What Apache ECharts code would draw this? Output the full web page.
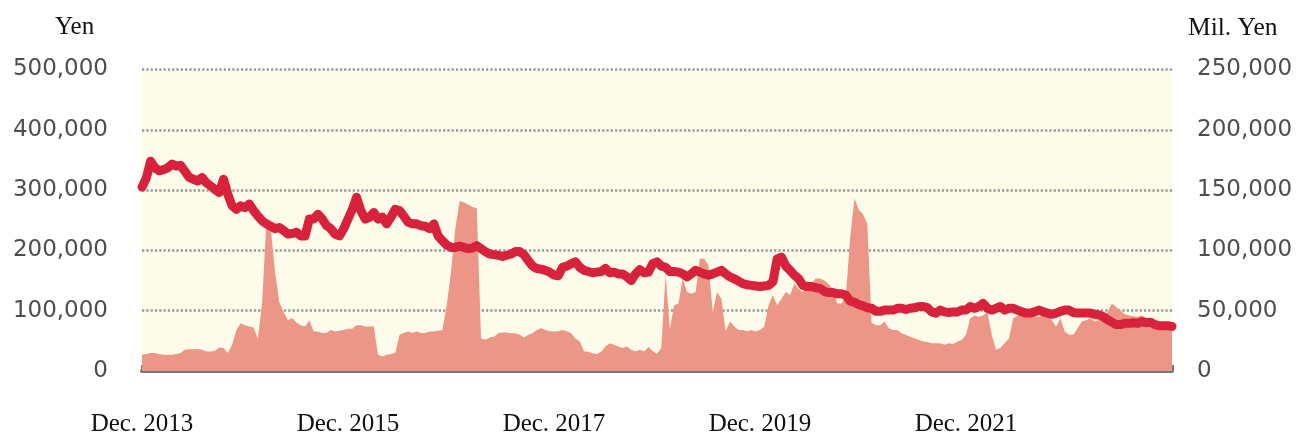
<!DOCTYPE html>
<html>
<head>
<meta charset="utf-8">
<script src="https://cdn.jsdelivr.net/npm/echarts@6/dist/echarts.min.js"></script>
<style>
  html, body { margin: 0; padding: 0; background: #ffffff; }
  #chart { width: 1296px; height: 437px; }
</style>
</head>
<body>
<div id="chart"></div>
<script>
// Half-monthly observations, Dec. 2013 to Dec. 2023 (241 points).
// Share price, Yen (left axis).
const priceYen = [
  305000, 320000, 348000, 337000, 332000, 334000, 337000, 343000, 340000, 341000,
  331000, 321000, 318000, 315000, 321000, 312000, 307000, 301000, 296000, 318000,
  293000, 274000, 268000, 274000, 271000, 277000, 266000, 257000, 249000, 244000,
  240000, 236000, 238000, 233000, 227000, 228000, 230000, 224000, 224000, 252000,
  252000, 260000, 252000, 241000, 236000, 227000, 224000, 236000, 252000, 268000,
  288000, 266000, 252000, 255000, 263000, 252000, 255000, 244000, 255000, 268000,
  266000, 257000, 247000, 244000, 244000, 241000, 240000, 236000, 244000, 224000,
  216000, 209000, 205000, 205000, 207000, 205000, 203000, 204000, 208000, 203000,
  198000, 194000, 193000, 192000, 190000, 192000, 194000, 198000, 198000, 193000,
  183000, 174000, 170000, 169000, 167000, 164000, 159000, 158000, 172000, 174000,
  178000, 181000, 172000, 167000, 165000, 163000, 164000, 165000, 170000, 163000,
  164000, 161000, 161000, 156000, 150000, 161000, 168000, 163000, 164000, 178000,
  181000, 174000, 172000, 165000, 165000, 164000, 161000, 156000, 161000, 167000,
  164000, 161000, 159000, 161000, 164000, 167000, 161000, 156000, 153000, 149000,
  145000, 143000, 142000, 141000, 140000, 141000, 142000, 148000, 186000, 189000,
  174000, 167000, 159000, 153000, 142000, 140000, 140000, 138000, 137000, 132000,
  130000, 130000, 128000, 128000, 126000, 116000, 114000, 110000, 108000, 105000,
  104000, 99000, 99000, 101000, 101000, 101000, 104000, 104000, 102000, 104000,
  105000, 107000, 107000, 105000, 98000, 96000, 101000, 98000, 97000, 98000,
  98000, 101000, 101000, 107000, 104000, 107000, 112000, 104000, 101000, 104000,
  107000, 101000, 104000, 104000, 101000, 98000, 96000, 96000, 98000, 101000,
  98000, 96000, 94000, 96000, 99000, 101000, 101000, 97000, 96000, 96000,
  96000, 96000, 94000, 93000, 90000, 85000, 81000, 77000, 77000, 79000,
  79000, 80000, 79000, 82000, 80000, 81000, 77000, 75000, 75000, 75000,
  74000
];

// Trading value, million Yen (right axis).
const tradingValueMilYen = [
  13400, 14000, 15000, 15000, 14000, 13400, 13400, 13400, 14000, 15000,
  17600, 18000, 18000, 18300, 17600, 16200, 16200, 16800, 19500, 19000,
  15000, 21700, 34000, 39500, 38000, 37000, 36000, 27000, 57000, 125000,
  118000, 82000, 57000, 49000, 42000, 44000, 40000, 38000, 37000, 42000,
  32700, 32700, 31600, 31600, 34000, 32700, 33300, 34000, 35000, 35000,
  38000, 38000, 37000, 37000, 37000, 13400, 12000, 13400, 14000, 15000,
  30000, 31600, 32700, 31600, 32700, 31600, 31600, 32700, 32700, 33300,
  34000, 54600, 82000, 118000, 141000, 140000, 138000, 136000, 135000, 27000,
  26000, 27700, 28500, 31300, 32000, 32000, 31300, 31300, 30000, 27700,
  30000, 31300, 34000, 35400, 34000, 33000, 32700, 33000, 34000, 33000,
  31300, 27000, 24500, 16200, 16000, 14800, 14000, 16000, 20300, 23000,
  21700, 20300, 19000, 20300, 17600, 16200, 17600, 16200, 20000, 16500,
  14000, 19000, 80000, 35000, 54600, 56000, 76600, 65600, 64000, 65600,
  93000, 93000, 87500, 49000, 65600, 60000, 32700, 41000, 36800, 34000,
  34000, 33000, 34000, 32700, 34000, 36800, 54600, 63000, 54600, 60000,
  65600, 63000, 72500, 68000, 65600, 74000, 72500, 76600, 76600, 75000,
  72000, 68000, 56000, 56000, 62000, 110000, 143000, 134000, 130000, 122000,
  40000, 38000, 38000, 41000, 35400, 34000, 34000, 31300, 30000, 28500,
  27200, 25800, 24500, 24000, 23000, 23000, 23000, 21700, 23000, 22300,
  24500, 25800, 30000, 43700, 46000, 45000, 46000, 49000, 30000, 17600,
  19000, 23000, 27000, 43700, 46000, 46000, 47000, 46000, 45500, 45000,
  46000, 45000, 42000, 36800, 43700, 32700, 30000, 30000, 35400, 41000,
  42000, 43700, 41000, 42000, 46000, 49000, 56000, 53000, 50000, 47000,
  46000, 45500, 45000, 46000, 44000, 41000, 40500, 40000, 39000, 38000,
  37000
];

const MONTHS = ['Jan.', 'Feb.', 'Mar.', 'Apr.', 'May', 'Jun.', 'Jul.', 'Aug.', 'Sep.', 'Oct.', 'Nov.', 'Dec.'];

// Period labels: 1st and 16th of each month starting Dec. 2013.
const periods = [];
for (let i = 0; i < priceYen.length; i++) {
  const m = 11 + Math.floor(i / 2);
  const year = 2013 + Math.floor(m / 12);
  const month = m % 12;
  periods.push(year + '-' + String(month + 1).padStart(2, '0') + '-' + (i % 2 ? '16' : '01'));
}

const leftTicks = { min: 0, max: 500000, interval: 100000 };
const rightTicks = { min: 0, max: 250000, interval: 50000 };

const fmt = v => v.toLocaleString('en-US');
const tickFont = { fontFamily: '"DejaVu Sans", sans-serif', fontSize: 23, color: '#4d4d4d' };
const serif = '"Liberation Serif", "DejaVu Serif", serif';

const chart = echarts.init(document.getElementById('chart'), null, { renderer: 'canvas' });
chart.setOption({
  animation: false,
  backgroundColor: '#ffffff',
  grid: {
    left: 142, right: 124, top: 69.5, bottom: 64,
    show: true, backgroundColor: '#fdfbea', borderWidth: 0
  },
  graphic: [
    { type: 'text', left: 55, top: 15, style: { text: 'Yen', font: '25px ' + serif, fill: '#111' } },
    { type: 'text', left: 1188, top: 15, style: { text: 'Mil. Yen', font: '25.5px ' + serif, fill: '#111' } }
  ],
  xAxis: {
    type: 'category',
    data: periods,
    boundaryGap: false,
    axisLine: { show: true, lineStyle: { color: '#777777', width: 4 } },
    axisTick: {
      show: true, inside: true, length: 6,
      interval: idx => idx % 24 === 0,
      lineStyle: { color: '#777777', width: 3 }
    },
    axisLabel: {
      interval: idx => idx % 48 === 0 && idx < periods.length - 1,
      margin: 41,
      fontFamily: serif, fontSize: 25, color: '#111',
      formatter: v => {
        const [y, m] = v.split('-');
        return MONTHS[parseInt(m, 10) - 1] + ' ' + y;
      }
    },
    splitLine: { show: false }
  },
  yAxis: [
    {
      type: 'value', position: 'left',
      min: leftTicks.min, max: leftTicks.max, interval: leftTicks.interval,
      axisLine: { show: false }, axisTick: { show: false },
      axisLabel: Object.assign({ margin: 34, formatter: fmt }, tickFont),
      splitLine: { show: true, lineStyle: { color: '#999999', width: 2.5, type: [2.3, 2] } }
    },
    {
      type: 'value', position: 'right',
      min: rightTicks.min, max: rightTicks.max, interval: rightTicks.interval,
      axisLine: { show: false }, axisTick: { show: false },
      axisLabel: Object.assign({ margin: 25, formatter: fmt }, tickFont),
      splitLine: { show: false }
    }
  ],
  series: [
    {
      name: 'Trading value',
      type: 'line',
      yAxisIndex: 1,
      data: tradingValueMilYen,
      symbol: 'none',
      lineStyle: { width: 0 },
      areaStyle: { color: '#eb9686', opacity: 1 },
      z: 2
    },
    {
      name: 'Share price',
      type: 'line',
      yAxisIndex: 0,
      data: priceYen,
      symbol: 'none',
      lineStyle: { color: '#d8213b', width: 9, cap: 'round', join: 'round' },
      z: 3
    }
  ]
});
</script>
</body>
</html>
